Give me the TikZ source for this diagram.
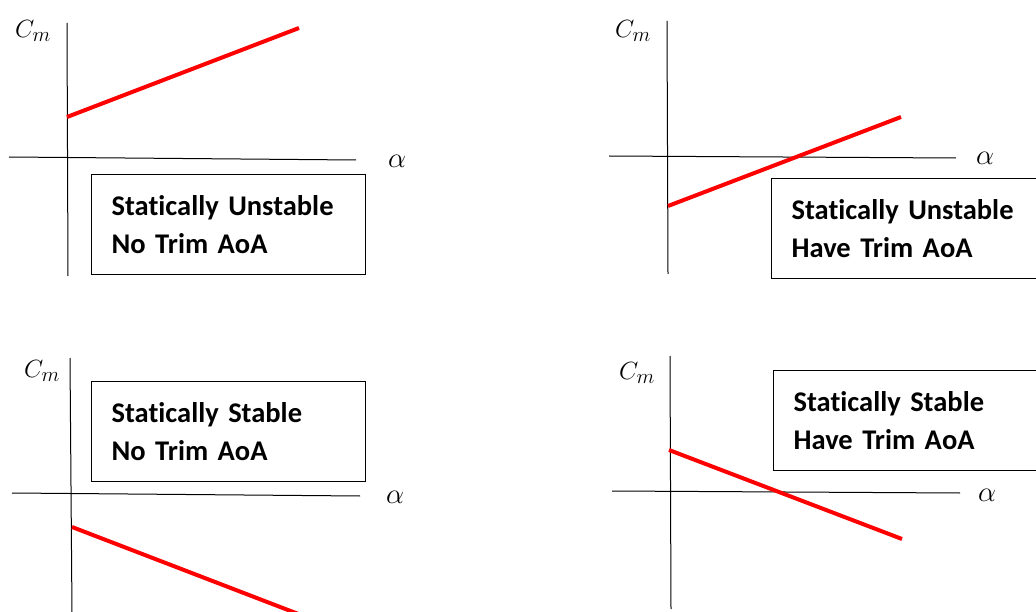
\documentclass[tikz,border=0pt]{standalone}
\usepackage{fontspec}
\setmainfont{Carlito}[Ligatures=NoCommon]
\usepackage{xcolor}
\usepackage{tikz}
\usetikzlibrary{positioning}
\definecolor{cmred}{RGB}{255,0,0}

\begin{document}
\begin{tikzpicture}[
    x=1pt, y=-1pt,
    axis/.style={line width=1pt, black},
    cmline/.style={line width=4pt, cmred},
    casebox/.style={draw, line width=1.2pt, anchor=north west, text width=234pt, inner xsep=20pt, minimum height=100pt, align=left, font=\fontsize{28.5}{38}\selectfont\bfseries},
    axlabel/.style={inner sep=0pt, font=\fontsize{29}{32}\selectfont}
]
    \useasboundingbox (0,0) rectangle (1036,612);

    % Unstable, no trim
    \coordinate (v1top) at (67,23);
    \coordinate (v1bot) at (68,276);
    \coordinate (h1l) at (9,157);
    \coordinate (h1r) at (356,160);
    \coordinate (r1a) at (67,117);
    \coordinate (r1b) at (299,28);
    \draw[axis] (v1top) -- (v1bot);
    \draw[axis] (h1l) -- (h1r);
    \draw[cmline] (r1a) -- (r1b);
    \node[axlabel] (cm1) at (33,31) {$C_m$};
    \node[axlabel, scale=1.15] (al1) at (397,161) {$\alpha$};
    \node[casebox] (case1) at (91,174) {Statically Unstable\\No Trim AoA};

    % Unstable, have trim
    \coordinate (v2top) at (667,21);
    \coordinate (v2bot) at (668,274);
    \coordinate (h2l) at (609,156);
    \coordinate (h2r) at (956,158);
    \coordinate (r2a) at (668,206);
    \coordinate (r2b) at (901,117);
    \draw[axis] (v2top) -- (v2bot);
    \draw[axis] (h2l) -- (h2r);
    \draw[cmline] (r2a) -- (r2b);
    \node[axlabel] (cm2) at (633,31) {$C_m$};
    \node[axlabel, scale=1.15] (al2) at (985,158) {$\alpha$};
    \node[casebox] (case2) at (771,178) {Statically Unstable\\Have Trim AoA};

    % Stable, no trim
    \coordinate (v3top) at (70,358);
    \coordinate (v3bot) at (72,614);
    \coordinate (h3l) at (12,493);
    \coordinate (h3r) at (360,496);
    \coordinate (r3a) at (72,527);
    \coordinate (r3b) at (301,615);
    \draw[axis] (v3top) -- (v3bot);
    \draw[axis] (h3l) -- (h3r);
    \draw[cmline] (r3a) -- (r3b);
    \node[axlabel] (cm3) at (42,371) {$C_m$};
    \node[axlabel, scale=1.15] (al3) at (395,497) {$\alpha$};
    \node[casebox] (case3) at (91,381) {Statically Stable\\No Trim AoA};

    % Stable, have trim
    \coordinate (v4top) at (670,356);
    \coordinate (v4bot) at (671,609);
    \coordinate (h4l) at (612,491);
    \coordinate (h4r) at (960,493);
    \coordinate (r4a) at (669,450);
    \coordinate (r4b) at (902,539);
    \draw[axis] (v4top) -- (v4bot);
    \draw[axis] (h4l) -- (h4r);
    \draw[cmline] (r4a) -- (r4b);
    \node[axlabel] (cm4) at (637,373) {$C_m$};
    \node[axlabel, scale=1.15] (al4) at (987,495) {$\alpha$};
    \node[casebox] (case4) at (773,370) {Statically Stable\\Have Trim AoA};
\end{tikzpicture}
\end{document}
